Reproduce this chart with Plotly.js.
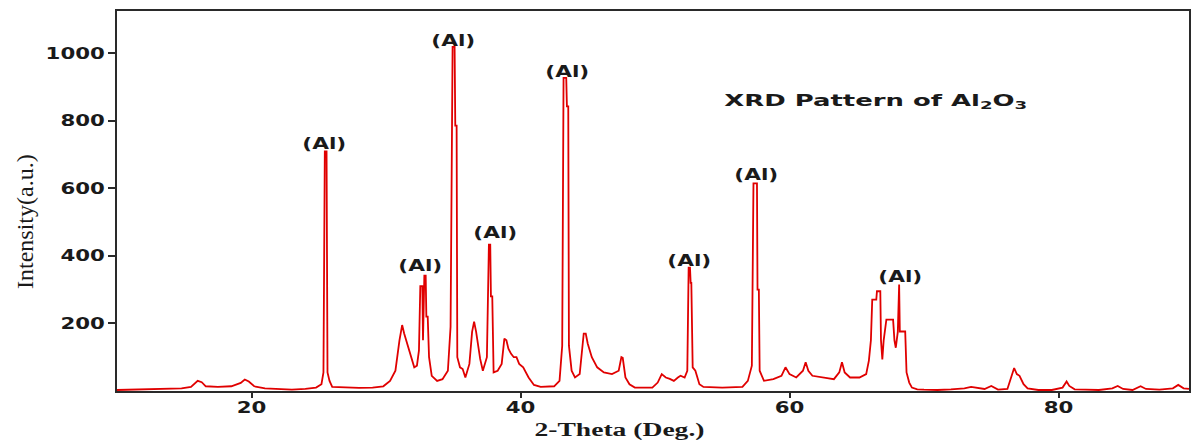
<!DOCTYPE html>
<html>
<head>
<meta charset="utf-8">
<script src="https://cdn.plot.ly/plotly-3.0.1.min.js"></script>
<style>
  html, body { margin: 0; padding: 0; background: #fff; }
  #plot { width: 1193px; height: 442px; }
</style>
</head>
<body>
<div id="plot"></div>
<script>
// 2-theta (deg) positions
const twoTheta = [
  10.0, 11.0, 12.0, 13.0, 14.0, 14.8, 15.5, 15.8, 16.0, 16.3, 16.6, 17.5, 18.5, 19.2, 19.5, 19.8, 20.2, 21.0, 22.0, 23.0, 24.0, 24.8, 25.2, 25.35,
  25.45, 25.58, 25.65, 25.8, 26.0, 27.0, 28.0, 29.0, 29.8, 30.3, 30.7, 31.0, 31.2, 31.35, 31.5, 31.7, 31.9, 32.1, 32.3, 32.45,
  32.55, 32.7, 32.75, 32.85, 32.95, 33.0, 33.1, 33.2, 33.4, 33.8, 34.2, 34.6, 34.8, 34.95, 35.1, 35.15, 35.25, 35.3, 35.5, 35.7,
  35.9, 36.2, 36.4, 36.55, 36.7, 36.85, 37.0, 37.2, 37.5, 37.65, 37.75, 37.8, 37.9, 38.0, 38.3, 38.6, 38.8, 38.95, 39.1, 39.3,
  39.5, 39.7, 39.9, 40.2, 40.6, 41.0, 41.5, 42.5, 42.9, 43.1, 43.2, 43.4, 43.45, 43.55, 43.6, 43.8, 44.05, 44.4, 44.7, 44.85,
  45.0, 45.3, 45.7, 46.2, 46.8, 47.3, 47.5, 47.6, 47.8, 48.1, 48.5, 49.8, 50.2, 50.5, 50.8, 51.1, 51.4, 51.7, 51.9, 52.2,
  52.4, 52.5, 52.6, 52.65, 52.7, 52.8, 53.0, 53.3, 53.6, 55.0, 56.5, 56.9, 57.2, 57.32, 57.58, 57.62, 57.72, 57.78, 58.1, 58.8,
  59.4, 59.7, 60.0, 60.5, 61.0, 61.2, 61.4, 61.7, 62.3, 62.8, 63.3, 63.7, 63.9, 64.1, 64.5, 65.2, 65.7, 65.9, 66.05, 66.15,
  66.45, 66.5, 66.75, 66.8, 66.9, 67.0, 67.2, 67.7, 67.8, 67.9, 68.05, 68.1, 68.15, 68.2, 68.6, 68.7, 68.9, 69.1, 69.5, 70.0,
  71.0, 72.0, 73.0, 73.5, 74.0, 74.5, 75.0, 75.5, 76.2, 76.5, 76.7, 76.9, 77.1, 77.4, 77.7, 78.5, 79.5, 80.3, 80.6, 80.8,
  81.2, 82.0, 83.0, 84.0, 84.4, 84.8, 85.5, 86.1, 86.5, 87.5, 88.5, 88.9, 89.3, 89.7
];
// intensity (a.u.)
const intensity = [
  3, 4, 3, 5, 6, 8, 12, 22, 30, 26, 14, 12, 14, 24, 34, 28, 14, 8, 5, 4, 6, 10, 20, 55,
  709, 709, 55, 30, 12, 10, 9, 10, 14, 30, 60, 150, 195, 170, 150, 120, 90, 70, 75, 120,
  310, 310, 150, 341, 341, 220, 220, 100, 45, 30, 35, 60, 190, 1018, 1018, 785, 785, 100, 70, 65,
  40, 80, 175, 205, 175, 130, 95, 60, 100, 433, 433, 280, 280, 55, 60, 80, 155, 150, 125, 110,
  100, 100, 80, 70, 40, 18, 12, 14, 30, 134, 926, 926, 842, 842, 134, 60, 40, 50, 170, 170,
  140, 100, 70, 55, 50, 60, 100, 98, 40, 20, 10, 10, 25, 50, 40, 36, 30, 40, 45, 40,
  60, 365, 365, 320, 320, 70, 60, 20, 12, 10, 12, 30, 75, 614, 614, 300, 300, 60, 30, 35,
  45, 70, 50, 40, 60, 85, 60, 45, 40, 38, 35, 55, 85, 55, 40, 40, 50, 90, 150, 270,
  270, 295, 295, 150, 93, 150, 211, 211, 150, 128, 175, 315, 315, 176, 176, 55, 25, 10, 5, 4,
  3, 5, 8, 12, 10, 6, 15, 4, 6, 40, 68, 50, 45, 20, 8, 3, 3, 10, 28, 15,
  5, 4, 3, 8, 15, 6, 3, 14, 6, 4, 8, 18, 8, 6
];

// peak labels
const peakLabelX = [25.44, 32.55, 35.0, 38.17, 43.5, 52.6, 57.54, 68.27];
const peakLabelY = [731, 371, 1038, 468, 944, 385, 639, 338];
const peakLabelText = ['(Al)', '(Al)', '(Al)', '(Al)', '(Al)', '(Al)', '(Al)', '(Al)'];

const xTickVals = [20, 40, 60, 80];
const yTickVals = [200, 400, 600, 800, 1000];

const chartTitle = 'XRD Pattern of Al<sub>2</sub>O<sub>3</sub>';
const xTitle = '2-Theta (Deg.)';
const yTitle = 'Intensity(a.u.)';

const trace = {
  x: twoTheta,
  y: intensity,
  type: 'scatter',
  mode: 'lines',
  line: { color: '#e00000', width: 1.8 },
  hoverinfo: 'skip'
};

const annotations = peakLabelX.map((x, i) => ({
  x: x, y: peakLabelY[i], xref: 'x', yref: 'y',
  xanchor: 'center', yanchor: 'middle',
  text: peakLabelText[i], showarrow: false,
  font: { family: 'DejaVu Sans', size: 16, color: '#1a1a1a', weight: 'bold' }
}));
annotations.push({
  x: 0.708, y: 0.763, xref: 'paper', yref: 'paper', showarrow: false,
  xanchor: 'center', yanchor: 'middle',
  text: chartTitle,
  font: { family: 'DejaVu Sans', size: 15, color: '#1a1a1a', weight: 'bold' }
});
annotations.push({
  x: 0.469, y: -0.105, xref: 'paper', yref: 'paper', showarrow: false,
  xanchor: 'center', yanchor: 'middle',
  text: xTitle,
  font: { family: 'Liberation Serif', size: 18, color: '#1a1a1a', weight: 'bold' }
});
annotations.push({
  x: -0.086, y: 0.447, xref: 'paper', yref: 'paper', showarrow: false,
  xanchor: 'center', yanchor: 'middle',
  text: yTitle, textangle: -90,
  font: { family: 'Liberation Serif', size: 24, color: '#1a1a1a' }
});

const layout = {
  width: 1193, height: 442,
  margin: { l: 117, r: 4, t: 11, b: 51, pad: 0 },
  paper_bgcolor: '#ffffff', plot_bgcolor: '#ffffff',
  showlegend: false,
  xaxis: {
    range: [10, 89.7], showgrid: false, zeroline: false,
    showline: true, mirror: true, linecolor: '#2a2a2a', linewidth: 2,
    ticks: 'outside', ticklen: 5, tickwidth: 2, tickcolor: '#2a2a2a',
    ticklabelstandoff: -4,
    tickvals: xTickVals, ticktext: xTickVals.map(String),
    tickfont: { family: 'DejaVu Sans', size: 16, color: '#1a1a1a', weight: 'bold' }
  },
  yaxis: {
    range: [0, 1124], showgrid: false, zeroline: false,
    showline: true, mirror: true, linecolor: '#2a2a2a', linewidth: 2,
    ticks: 'outside', ticklen: 7, tickwidth: 2, tickcolor: '#2a2a2a',
    tickvals: yTickVals, ticktext: yTickVals.map(String),
    tickfont: { family: 'DejaVu Sans', size: 16, color: '#1a1a1a', weight: 'bold' }
  },
  annotations: annotations
};

function stretchTexts(gd) {
  const k = 1.33;
  gd.querySelectorAll('.xtick text, .ytick text').forEach(t => {
    const w = t.getComputedTextLength();
    t.setAttribute('textLength', (w * k).toFixed(1));
    t.setAttribute('lengthAdjust', 'spacingAndGlyphs');
  });
  gd.querySelectorAll('text.annotation-text').forEach(t => {
    const txt = t.textContent;
    let target = null;
    if (txt === '(Al)') target = 44;
    else if (txt.indexOf('XRD') === 0) target = 303;
    else if (txt === xTitle) target = 170;
    if (target) {
      t.setAttribute('textLength', target);
      t.setAttribute('lengthAdjust', 'spacingAndGlyphs');
    }
  });
}

Plotly.newPlot('plot', [trace], layout, { staticPlot: true, displayModeBar: false })
  .then(gd => stretchTexts(gd));
</script>
</body>
</html>
